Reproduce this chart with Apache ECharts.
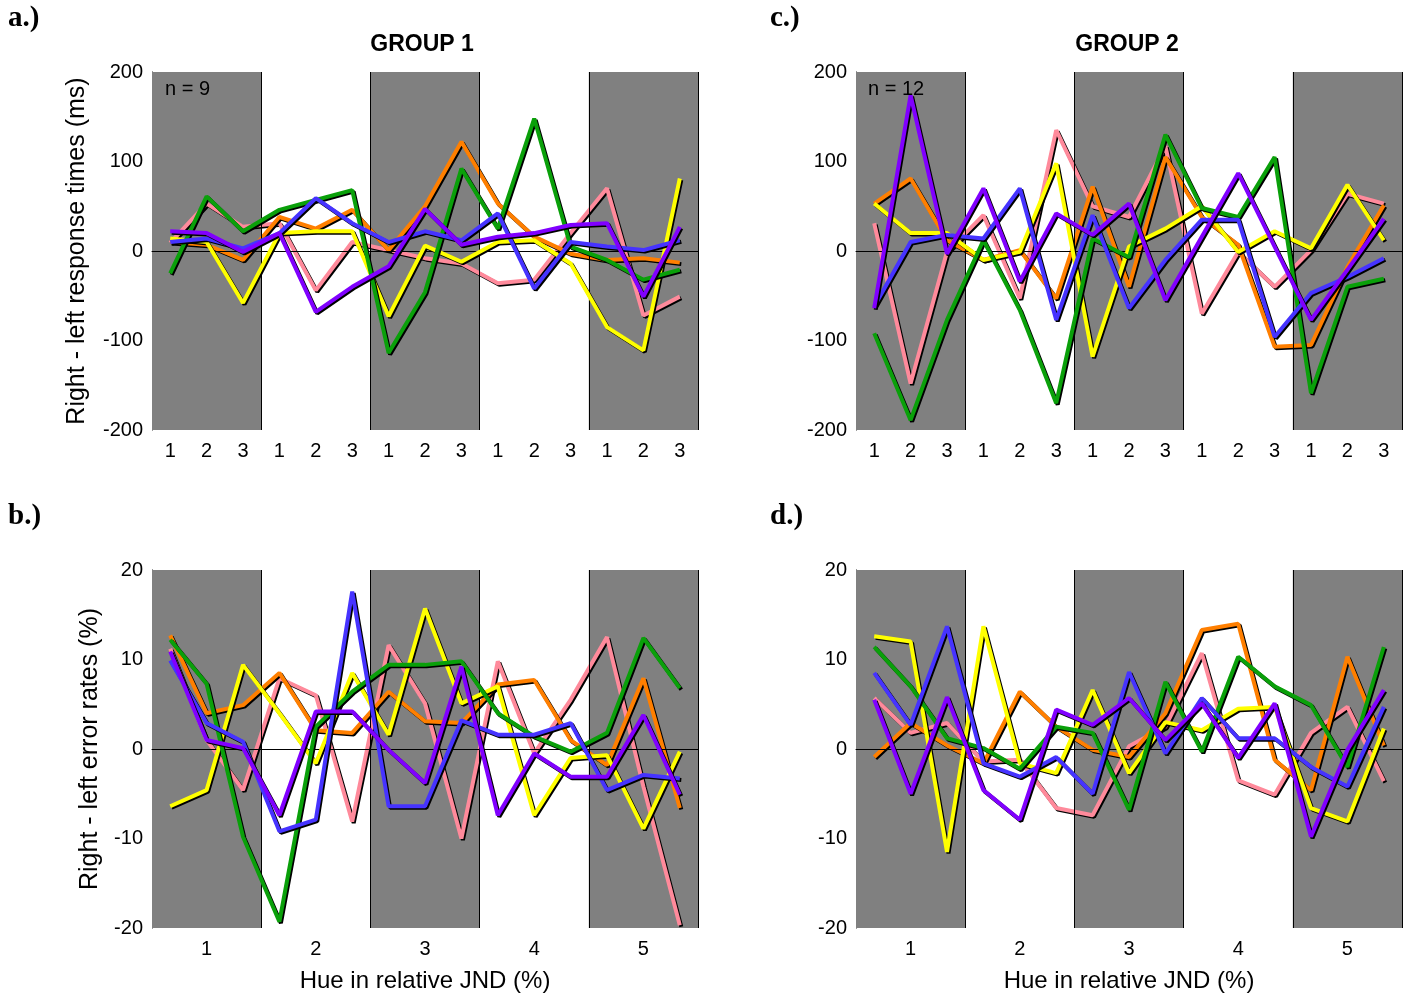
<!DOCTYPE html>
<html>
<head>
<meta charset="utf-8">
<script src="https://cdn.jsdelivr.net/npm/echarts@6/dist/echarts.min.js"></script>
<style>
  html, body { margin: 0; padding: 0; background: #fff; }
  #chart { width: 1403px; height: 995px; }
</style>
</head>
<body>
<div id="chart"></div>
<script>
// Tick labels
const levelLabels = ['1', '2', '3'];
const hueGroups = ['1', '2', '3', '4', '5'];
const rtTicks = [-200, -100, 0, 100, 200];
const errTicks = [-20, -10, 0, 10, 20];

// Group 1 – right minus left response times (ms), 5 hue groups x 3 levels
const g1RtPink   = [9, 53, 27, 31, -44, 10, 1, -8, -14, -36, -32, 20, 70, -72, -51];
const g1RtOrange = [10, 7, -10, 38, 25, 46, 1, 50, 122, 53, 16, -3, -10, -8, -13];
const g1RtYellow = [14, 10, -58, 20, 22, 22, -73, 6, -12, 10, 12, -14, -85, -111, 81];
const g1RtGreen  = [-25, 61, 22, 46, 57, 68, -114, -46, 92, 25, 148, 5, -10, -32, -21];
const g1RtBlue   = [10, 14, 3, 20, 59, 31, 10, 22, 12, 42, -42, 10, 5, 1, 12];
const g1RtPurple = [22, 20, -1, 20, -68, -40, -17, 47, 7, 16, 20, 29, 31, -51, 27];

// Group 2 – right minus left response times (ms)
const g2RtPink   = [31, -148, -1, 40, -53, 135, 50, 38, 117, -70, -1, -40, 1, 64, 53];
const g2RtOrange = [53, 81, 12, -10, 1, -53, 72, -40, 105, 38, 7, -107, -105, -18, 51];
const g2RtYellow = [53, 20, 20, -10, -1, 98, -118, 5, 25, 50, -1, 22, 3, 74, 12];
const g2RtGreen  = [-92, -189, -77, 12, -66, -170, 14, -7, 130, 48, 38, 105, -159, -40, -31];
const g2RtBlue   = [-62, 10, 18, 14, 70, -77, 40, -64, -10, 35, 35, -96, -47, -29, -8];
const g2RtPurple = [-64, 174, -3, 70, -34, 42, 18, 53, -55, 16, 87, 5, -77, -21, 36];

// Group 1 – right minus left error rates (%)
const g1ErrPink   = [11.2, 1.0, -4.6, 7.9, 6.0, -8.1, 11.6, 5.1, -10.0, 9.8, -0.5, 5.5, 12.5, -4.2, -19.7];
const g1ErrOrange = [12.7, 4.0, 4.9, 8.5, 2.1, 1.8, 6.4, 3.1, 2.9, 7.2, 7.7, 1.0, -1.8, 7.9, -6.6];
const g1ErrYellow = [-6.4, -4.6, 9.4, 4.0, -1.6, 8.5, 1.6, 15.7, 5.1, 7.0, -7.4, -1.0, -0.7, -8.9, -0.3];
const g1ErrGreen  = [12.2, 7.3, -9.8, -19.3, 2.5, 6.4, 9.4, 9.4, 9.8, 4.0, 1.4, -0.3, 1.8, 12.4, 6.8];
const g1ErrBlue   = [9.9, 2.9, 0.8, -9.2, -7.9, 17.6, -6.4, -6.4, 3.2, 1.6, 1.6, 2.9, -4.6, -2.9, -3.3];
const g1ErrPurple = [10.9, 1.0, 0.1, -7.4, 4.2, 4.2, -0.1, -3.8, 9.2, -7.4, -0.5, -3.1, -3.1, 3.8, -5.1];

// Group 2 – right minus left error rates (%)
const g2ErrPink   = [5.7, 1.8, 2.9, -1.4, -1.2, -6.6, -7.4, 0.3, 2.5, 10.7, -3.5, -5.1, 1.8, 4.7, -3.6];
const g2ErrOrange = [-0.9, 2.9, 0.4, -1.6, 6.4, 2.5, -0.1, -0.9, 4.0, 13.3, 14.0, -1.2, -4.6, 10.3, 0.4];
const g2ErrYellow = [12.6, 12.0, -11.5, 13.7, -1.6, -2.7, 6.6, -2.7, 3.0, 2.1, 4.5, 4.7, -6.6, -8.1, 2.3];
const g2ErrGreen  = [11.4, 7.0, 1.2, 0.1, -2.2, 2.5, 1.8, -6.8, 7.5, -0.3, 10.3, 7.0, 4.9, -2.0, 11.4];
const g2ErrBlue   = [8.5, 2.7, 13.7, -1.6, -3.1, -0.9, -5.0, 8.6, -0.5, 5.7, 1.2, 1.2, -2.0, -4.2, 4.7];
const g2ErrPurple = [5.5, -5.0, 5.8, -4.6, -7.9, 4.4, 2.7, 5.7, 1.0, 5.1, -1.0, 5.1, -9.8, -0.1, 6.6];

const lineColors = ['#ff8a9b', '#ff7f00', '#ffff00', '#0aa00a', '#4633ff', '#8000ff'];
const shadedBlocks = [[0, 3], [6, 9], [12, 15]];
const blockEdges = [3, 6, 9, 12, 15];

const categories = hueGroups.flatMap(g => levelLabels.map(l => g + '-' + l));

const FONT = 'Liberation Sans, Arial, sans-serif';

const panels = [
  { left: 152, top: 72, ticks: rtTicks, step: 100, labelMode: 'level',
    yName: 'Right - left response times (ms)', yNameGap: 62, xName: '',
    data: [g1RtPink, g1RtOrange, g1RtYellow, g1RtGreen, g1RtBlue, g1RtPurple] },
  { left: 856, top: 72, ticks: rtTicks, step: 100, labelMode: 'level',
    yName: '', yNameGap: 0, xName: '',
    data: [g2RtPink, g2RtOrange, g2RtYellow, g2RtGreen, g2RtBlue, g2RtPurple] },
  { left: 152, top: 570, ticks: errTicks, step: 10, labelMode: 'group',
    yName: 'Right - left error rates (%)', yNameGap: 49, xName: 'Hue in relative JND (%)',
    data: [g1ErrPink, g1ErrOrange, g1ErrYellow, g1ErrGreen, g1ErrBlue, g1ErrPurple] },
  { left: 856, top: 570, ticks: errTicks, step: 10, labelMode: 'group',
    yName: '', yNameGap: 0, xName: 'Hue in relative JND (%)',
    data: [g2ErrPink, g2ErrOrange, g2ErrYellow, g2ErrGreen, g2ErrBlue, g2ErrPurple] }
];

const grid = [], xAxis = [], yAxis = [], series = [];

panels.forEach((p, k) => {
  grid.push({ left: p.left, top: p.top, width: 546, height: 358 });

  xAxis.push({
    type: 'category', gridIndex: k, data: categories, boundaryGap: true,
    axisLine: { show: true, lineStyle: { color: '#000', width: 1 } },
    axisTick: { show: false },
    axisLabel: {
      interval: 0, margin: 11, fontSize: 20, color: '#000', fontFamily: FONT,
      formatter: (v, i) => p.labelMode === 'level'
        ? levelLabels[i % 3]
        : (i % 3 === 1 ? hueGroups[Math.floor(i / 3)] : '')
    },
    name: p.xName, nameLocation: 'middle', nameGap: 41,
    nameTextStyle: { fontSize: 24, color: '#000', fontFamily: FONT },
    splitLine: { show: false }
  });
  // Continuous helper axis over the same width, used for the shaded blocks
  xAxis.push({
    type: 'value', gridIndex: k, min: 0, max: 15, show: false
  });

  yAxis.push({
    type: 'value', gridIndex: k,
    min: p.ticks[0], max: p.ticks[p.ticks.length - 1], interval: p.step,
    axisLine: { show: true, lineStyle: { color: '#000', width: 1 } },
    axisTick: { show: false },
    splitLine: { show: false },
    axisLabel: { margin: 9, fontSize: 20, color: '#000', fontFamily: FONT },
    name: p.yName, nameLocation: 'middle', nameGap: p.yNameGap, nameRotate: 90,
    nameTextStyle: { fontSize: 25, color: '#000', fontFamily: FONT }
  });

  // Shaded hue blocks, block edges and the zero reference line
  series.push({
    type: 'line', xAxisIndex: 2 * k + 1, yAxisIndex: k, z: 1,
    data: [[0, 0]], showSymbol: false, silent: true,
    lineStyle: { opacity: 0 },
    markArea: {
      silent: true,
      itemStyle: { color: '#808080' },
      data: shadedBlocks.map(b => [{ xAxis: b[0] }, { xAxis: b[1] }])
    },
    markLine: {
      silent: true, symbol: ['none', 'none'], label: { show: false },
      lineStyle: { color: '#000', width: 1, type: 'solid' },
      data: blockEdges.map(e => ({ xAxis: e })).concat([{ yAxis: 0 }])
    }
  });

  p.data.forEach((vals, c) => {
    series.push({
      type: 'line', xAxisIndex: 2 * k, yAxisIndex: k, z: 3 + c,
      data: vals, showSymbol: false, silent: true, animation: false,
      lineStyle: {
        color: lineColors[c], width: 4,
        shadowColor: '#000', shadowBlur: 0, shadowOffsetX: 1.5, shadowOffsetY: 1.5
      }
    });
  });
});

const groupTitle = { fontSize: 23, fontWeight: 'bold', fill: '#000', fontFamily: FONT, textAlign: 'center', textVerticalAlign: 'middle' };
const serifBold = { fontSize: 29, fontWeight: 'bold', fill: '#000', fontFamily: 'Liberation Serif, Times New Roman, serif' };
const noteStyle = { fontSize: 20, fill: '#000', fontFamily: FONT, textVerticalAlign: 'middle' };
const graphic = [
  { type: 'text', x: 422, y: 45, style: Object.assign({ text: 'GROUP 1' }, groupTitle) },
  { type: 'text', x: 1127, y: 45, style: Object.assign({ text: 'GROUP 2' }, groupTitle) },
  { type: 'text', left: 8, top: 4, style: Object.assign({ text: 'a.)' }, serifBold) },
  { type: 'text', left: 8, top: 502, style: Object.assign({ text: 'b.)' }, serifBold) },
  { type: 'text', left: 770, top: 4, style: Object.assign({ text: 'c.)' }, serifBold) },
  { type: 'text', left: 770, top: 502, style: Object.assign({ text: 'd.)' }, serifBold) },
  { type: 'text', x: 165, y: 89, z: 100, style: Object.assign({ text: 'n = 9' }, noteStyle) },
  { type: 'text', x: 868, y: 89, z: 100, style: Object.assign({ text: 'n = 12' }, noteStyle) }
];

const chart = echarts.init(document.getElementById('chart'), null, { renderer: 'canvas' });
chart.setOption({
  animation: false,
  backgroundColor: '#fff',
  graphic, grid, xAxis, yAxis, series
});
</script>
</body>
</html>
